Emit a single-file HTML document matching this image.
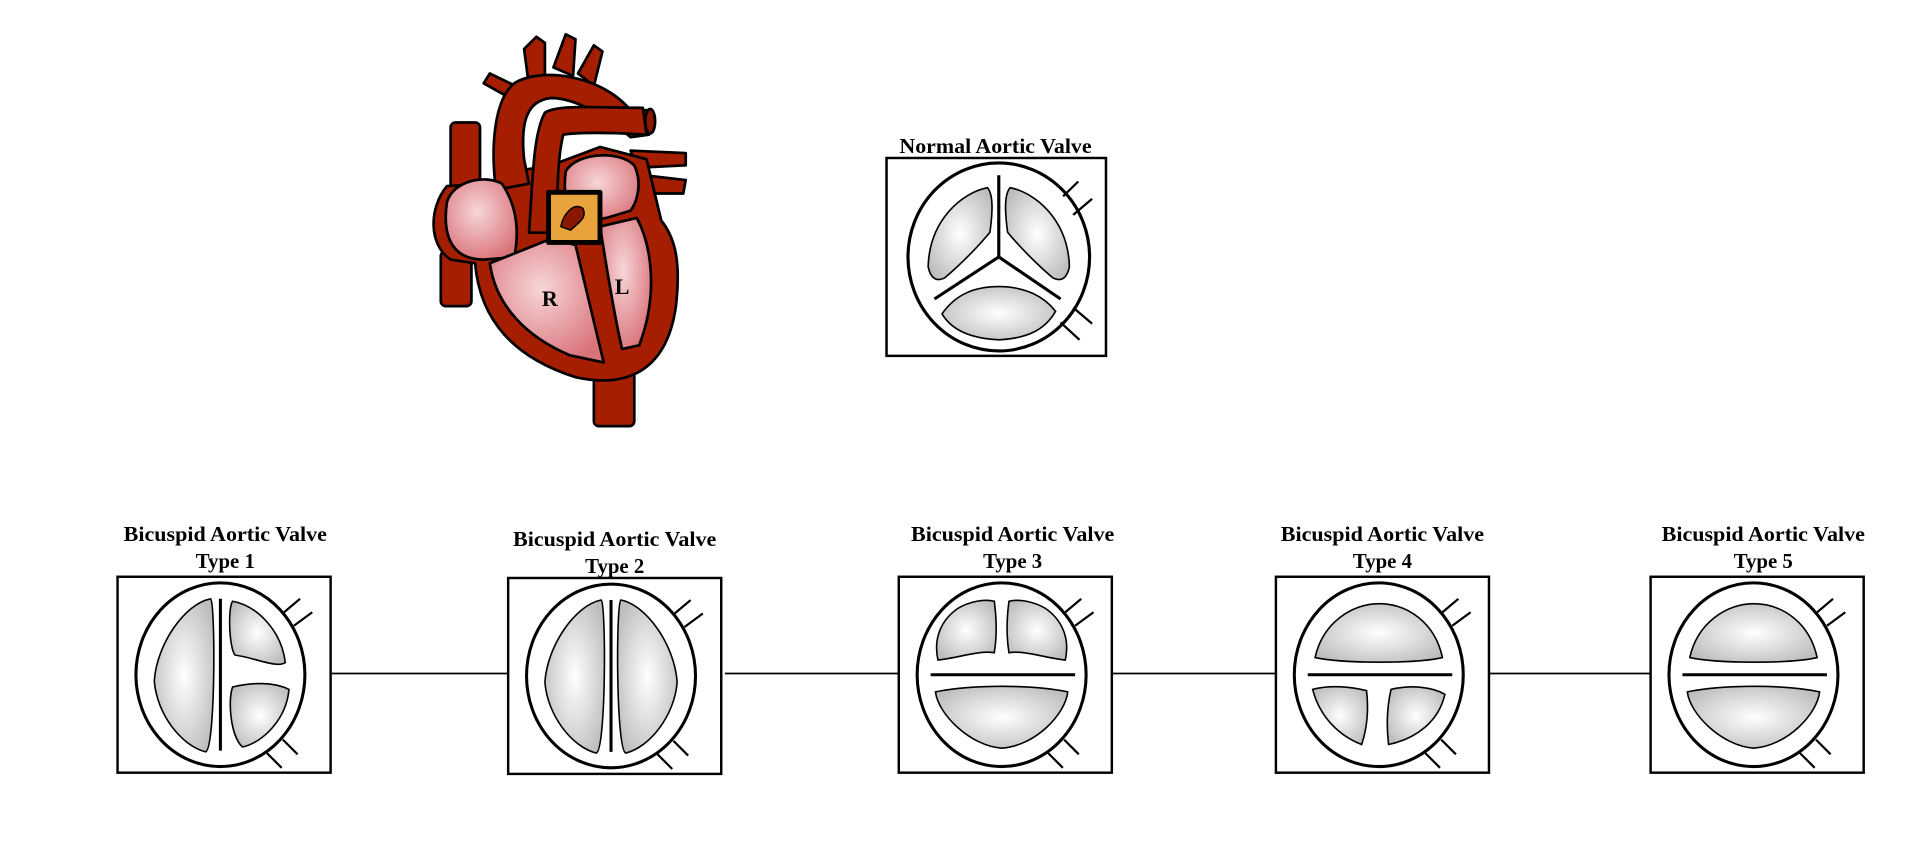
<!DOCTYPE html>
<html><head><meta charset="utf-8"><style>html,body{margin:0;padding:0;background:#fff;}svg{display:block}</style></head>
<body>
<svg width="1920" height="867" viewBox="0 0 1568 708" xmlns="http://www.w3.org/2000/svg" font-family="'Liberation Serif', serif">
<defs>
<radialGradient id="lf" cx="50%" cy="50%" r="60%"><stop offset="0" stop-color="#ffffff"/><stop offset="1" stop-color="#bdbdbd"/></radialGradient>
<radialGradient id="pk" cx="45%" cy="40%" r="65%"><stop offset="0" stop-color="#f7d6d8"/><stop offset="1" stop-color="#d9737a"/></radialGradient>
<g id="base">
<rect x="0" y="0" width="174" height="160" fill="#fff" stroke="#000" stroke-width="2"/>
<ellipse cx="84" cy="80" rx="69" ry="75" fill="#fff" stroke="#000" stroke-width="2.5"/>
<g stroke="#000" stroke-width="1.8">
<line x1="136" y1="29" x2="149" y2="18"/><line x1="144" y1="40" x2="159" y2="29"/>
<line x1="122" y1="144" x2="134" y2="156"/><line x1="135" y1="133" x2="147" y2="145"/>
</g>
</g>
<path id="L1" d="M76,18 C55,22 32,55 30,85 C32,112 52,138 72,143 C80,140 80,22 76,18Z"/>
<path id="R2" d="M92,18 C113,22 136,55 138,85 C136,112 116,138 96,143 C88,140 88,22 92,18Z"/>
<path id="TOPBIG" d="M32,66 C38,38 62,22 84,22 C108,22 130,38 136,66 C115,71 55,71 32,66Z"/>
<path id="BOTBIG" d="M30,94 C60,88 110,88 138,94 C136,112 112,138 84,140 C58,138 32,112 30,94Z"/>
</defs>

<g stroke="#000" stroke-width="1.5">
<line x1="270" y1="550" x2="415" y2="550"/><line x1="592" y1="550" x2="734" y2="550"/>
<line x1="907" y1="550" x2="1042" y2="550"/><line x1="1216" y1="550" x2="1348" y2="550"/>
</g>

<g font-weight="bold" font-size="17" text-anchor="middle" fill="#000">
<text x="813" y="125" textLength="157" lengthAdjust="spacingAndGlyphs">Normal Aortic Valve</text>
<text x="184" y="442" textLength="166" lengthAdjust="spacingAndGlyphs">Bicuspid Aortic Valve</text><text x="184" y="464">Type 1</text>
<text x="502" y="446" textLength="166" lengthAdjust="spacingAndGlyphs">Bicuspid Aortic Valve</text><text x="502" y="468">Type 2</text>
<text x="827" y="442" textLength="166" lengthAdjust="spacingAndGlyphs">Bicuspid Aortic Valve</text><text x="827" y="464">Type 3</text>
<text x="1129" y="442" textLength="166" lengthAdjust="spacingAndGlyphs">Bicuspid Aortic Valve</text><text x="1129" y="464">Type 4</text>
<text x="1440" y="442" textLength="166" lengthAdjust="spacingAndGlyphs">Bicuspid Aortic Valve</text><text x="1440" y="464">Type 5</text>
</g>

<g transform="translate(724,129) scale(1.03,1.01)">
<rect x="0" y="0" width="174" height="160" fill="#fff" stroke="#000" stroke-width="2"/>
<ellipse cx="89" cy="80" rx="72" ry="76" fill="#fff" stroke="#000" stroke-width="2.5"/>
<g stroke="#000" stroke-width="1.8">
<line x1="140" y1="31" x2="152" y2="19"/><line x1="148" y1="46" x2="163" y2="33"/>
<line x1="138" y1="133" x2="153" y2="147"/><line x1="148" y1="121" x2="163" y2="134"/>
</g>
<g fill="url(#lf)" stroke="#000" stroke-width="1.3">
<path d="M80,24 C60,28 34,50 33,88 C35,98 40,100 46,97 C60,85 74,70 82,60 C84,45 85,30 80,24Z"/>
<path d="M98,24 C118,28 144,50 145,88 C143,98 138,100 132,97 C118,85 104,70 96,60 C94,45 93,30 98,24Z"/>
<path d="M44,126 C55,110 70,104 89,104 C110,104 125,112 134,124 C125,140 110,146 89,147 C68,146 52,140 44,126Z"/>
</g>
<g stroke="#000" stroke-width="2.5" fill="none"><path d="M89,14 L89,80 L38,114 M89,80 L138,114"/></g>
</g>

<g transform="translate(96,471)"><use href="#base"/>
<g fill="url(#lf)" stroke="#000" stroke-width="1.3"><use href="#L1"/>
<path d="M94,20 C115,24 134,45 137,70 C130,75 112,66 96,64 C91,58 90,25 94,20Z"/>
<path d="M94,90 C110,86 128,86 140,92 C138,115 120,135 102,139 C92,130 90,100 94,90Z"/></g>
<line x1="84" y1="18" x2="84" y2="142" stroke="#000" stroke-width="2.5"/></g>

<g transform="translate(415,472)"><use href="#base"/>
<g fill="url(#lf)" stroke="#000" stroke-width="1.3"><use href="#L1"/><use href="#R2"/></g>
<line x1="84" y1="18" x2="84" y2="142" stroke="#000" stroke-width="2.5"/></g>

<g transform="translate(734,471)"><use href="#base"/>
<g fill="url(#lf)" stroke="#000" stroke-width="1.3">
<path d="M48,26 C58,20 70,18 78,20 C80,35 80,50 78,62 C65,60 50,66 32,68 C28,50 35,35 48,26Z"/>
<path d="M120,26 C110,20 98,18 90,20 C88,35 88,50 90,62 C103,60 118,66 136,68 C140,50 133,35 120,26Z"/>
<use href="#BOTBIG"/></g>
<line x1="26" y1="80" x2="144" y2="80" stroke="#000" stroke-width="2.5"/></g>

<g transform="translate(1042,471)"><use href="#base"/>
<g fill="url(#lf)" stroke="#000" stroke-width="1.3"><use href="#TOPBIG"/>
<path d="M30,92 C45,88 62,90 74,93 C76,110 74,125 70,137 C52,130 36,115 30,92Z"/>
<path d="M94,92 C110,88 128,90 138,96 C133,118 115,132 92,137 C90,120 91,105 94,92Z"/></g>
<line x1="26" y1="80" x2="144" y2="80" stroke="#000" stroke-width="2.5"/></g>

<g transform="translate(1348,471)"><use href="#base"/>
<g fill="url(#lf)" stroke="#000" stroke-width="1.3"><use href="#TOPBIG"/><use href="#BOTBIG"/></g>
<line x1="26" y1="80" x2="144" y2="80" stroke="#000" stroke-width="2.5"/></g>

<g stroke="#000" stroke-width="2.2" stroke-linejoin="round">
<rect x="485" y="295" width="33" height="53" rx="4" fill="#a61e00"/>
<rect x="368" y="100" width="24" height="60" rx="4" fill="#a61e00"/>
<rect x="360" y="205" width="25" height="45" rx="4" fill="#a61e00"/>
<path d="M395,68 L400,60 L425,72 L420,82Z" fill="#a61e00"/>
<path d="M428,40 L438,30 L445,35 L445,70 L432,70Z" fill="#a61e00"/>
<path d="M452,55 L462,28 L470,32 L468,62Z" fill="#a61e00"/>
<path d="M472,60 L485,37 L492,42 L485,70Z" fill="#a61e00"/>
<path d="M515,123 L560,125 L560,135 L520,137Z" fill="#a61e00"/>
<path d="M525,143 L560,147 L558,158 L525,158Z" fill="#a61e00"/>
<path d="M365,152 C350,170 350,200 368,212 L388,215 C392,262 420,292 470,308 C515,318 545,300 552,250 C556,215 552,195 540,180 L528,130 L490,120 L450,135 L420,140 L400,150Z" fill="#a61e00"/>
<path d="M405,155 C400,115 405,80 420,68 C440,55 490,60 515,90 L530,90 L530,110 L515,112 C495,95 470,80 450,80 C430,82 425,100 428,130 L432,150Z" fill="#a61e00"/>
<path d="M432,190 C435,150 435,110 445,92 C455,85 490,88 525,88 L528,110 C500,108 470,108 460,110 C455,130 455,160 455,190Z" fill="#a61e00"/>
<ellipse cx="531" cy="99" rx="4" ry="10" fill="#8a1800"/>
<path d="M365,165 C370,148 395,142 410,150 C420,165 425,185 420,210 L395,212 C375,212 360,200 365,165Z" fill="url(#pk)"/>
<path d="M462,140 C470,125 505,122 518,135 C525,150 520,165 515,172 L495,178 L468,182 C462,170 460,155 462,140Z" fill="url(#pk)"/>
<path d="M400,215 L450,195 L470,200 L493,296 L465,290 C430,275 405,250 400,215Z" fill="url(#pk)"/>
<path d="M490,185 L520,178 C532,200 538,240 522,282 L508,285 C500,250 495,215 490,185Z" fill="url(#pk)"/>
<rect x="448" y="157" width="42" height="41" fill="#e8a33c" stroke="#000" stroke-width="4"/>
<path d="M458,185 C460,175 468,165 476,170 C480,178 472,182 466,188Z" fill="#8a1800" stroke-width="1.2"/>
</g>
<g font-weight="bold" font-size="18" fill="#000" text-anchor="middle">
<text x="449" y="250">R</text><text x="508" y="240">L</text>
</g>
</svg>
</body></html>
